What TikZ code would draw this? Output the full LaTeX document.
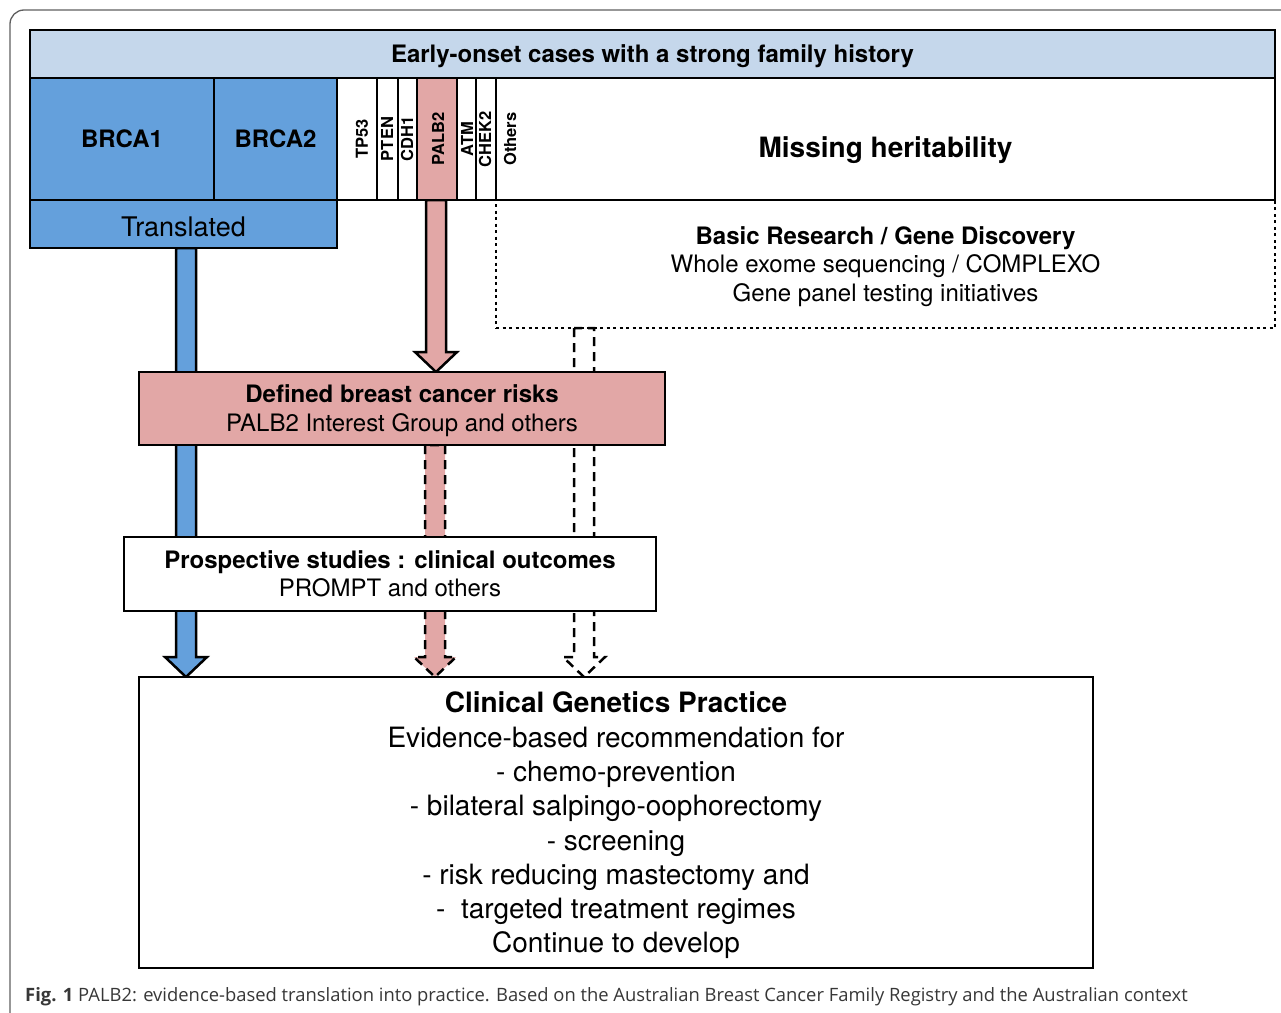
\documentclass[tikz,border=0pt]{standalone}
\usepackage{fontspec}
\setmainfont{TeX Gyre Heros}
\newfontfamily\capfont{Open Sans}
\usetikzlibrary{calc,backgrounds}

\definecolor{hdrblue}{RGB}{197,215,235}
\definecolor{genblue}{RGB}{100,160,220}
\definecolor{palbpink}{RGB}{226,167,166}
\definecolor{framegray}{RGB}{95,95,95}
\definecolor{capgray}{RGB}{55,55,55}

% block arrow: style, centre x, from (node anchor), to (node anchor)
\newcommand{\fatarrow}[4]{%
  \draw[#1] let \p1=(#3), \p2=(#4) in
    ({#2pt-10pt},\y1) -- ({#2pt-10pt},{\y2+20pt}) -- ({#2pt-21pt},{\y2+20pt})
    -- (#2pt,\y2) -- ({#2pt+21pt},{\y2+20pt}) -- ({#2pt+10pt},{\y2+20pt})
    -- ({#2pt+10pt},\y1) -- cycle;}

\tikzset{
  box/.style={draw, line width=2.5pt, inner sep=0pt, outer sep=0pt, anchor=north west, align=center, text depth=0pt},
  genecol/.style={draw, line width=1.2pt, inner sep=0pt, outer sep=0pt, anchor=north west, minimum height=122pt},
  genelab/.style={rotate=90, inner sep=0pt, font=\fontsize{16.5}{16.5}\selectfont\bfseries},
  dottedbox/.style={draw, line width=2.5pt, dash pattern=on 3pt off 3.5pt},
  arrowline/.style={line width=2.5pt, line join=miter},
  dasharrow/.style={arrowline, dash pattern=on 9pt off 6pt},
}

\begin{document}
\begin{tikzpicture}[x=1pt,y=-1pt]
  \useasboundingbox (0,0) rectangle (1281,1012);

  % Frame
  \draw[framegray, line width=1.3pt, rounded corners=14pt] (1295,10) -- (10,10) -- (10,1030);

  % Top rows
  \node[box, fill=hdrblue, minimum width=1245pt, minimum height=48pt,
        font=\fontsize{24}{24}\selectfont\bfseries] (head) at (30,30)
        {Early-onset cases with a strong family history};
  \node[genecol, fill=genblue, minimum width=184pt, font=\fontsize{24}{24}\selectfont\bfseries] (brca1) at (30,78) {BRCA1};
  \node[genecol, fill=genblue, minimum width=123pt, font=\fontsize{24}{24}\selectfont\bfseries] (brca2) at (214,78) {BRCA2};
  \node[genecol, minimum width=779pt] (missing) at (496,78) {};
  \node[font=\fontsize{28}{28}\selectfont\bfseries, yshift=-11pt] at (missing.center) {Missing heritability};
  \foreach \gx/\gw/\gname in {337/40/TP53, 377/21/PTEN, 398/19/CDH1, 457/19/ATM, 476/20/CHEK2}
    \node[genecol, minimum width=\gw pt] (\gname) at (\gx,78) {};
  \node[genecol, fill=palbpink, line width=2.5pt, minimum width=40pt] (PALB2) at (417,78) {};
  \foreach \gname/\lx in {TP53/362, PTEN/387, CDH1/407, PALB2/438, ATM/467, CHEK2/485, Others/510}
    \node[genelab] at (\lx,139) {\gname};

  \node[box, fill=genblue, minimum width=307pt, minimum height=48pt, text height=24pt,
        font=\fontsize{27}{27}\selectfont] (trans) at (30,200) {Translated};
  \node[box, dottedbox, minimum width=779pt, minimum height=128pt, text depth=-3pt,
        font=\fontsize{24}{28.5}\selectfont] (basic) at (496,200)
        {\textbf{Basic Research / Gene Discovery}\\Whole exome sequencing / COMPLEXO\\Gene panel testing initiatives};
  \draw[line width=2.5pt] (brca1.north west) rectangle (missing.south east);
  \draw[line width=2.5pt] (trans.north west) rectangle (trans.south east);

  % Middle boxes
  \node[box, fill=palbpink, minimum width=526pt, minimum height=73pt,
        font=\fontsize{24}{29}\selectfont] (defined) at (139,372)
        {\textbf{Defined breast cancer risks}\\PALB2 Interest Group and others};
  \node[box, fill=white, minimum width=532pt, minimum height=74pt,
        font=\fontsize{24}{28}\selectfont] (prosp) at (124,537)
        {\textbf{Prospective studies : clinical outcomes}\\PROMPT and others};
  \node[box, fill=white, minimum width=954pt, minimum height=291pt,
        font=\fontsize{28}{34.3}\selectfont] (clin) at (139,677)
        {\textbf{Clinical Genetics Practice}\\Evidence-based recommendation for\\- chemo-prevention\\
         - bilateral salpingo-oophorectomy\\- screening\\- risk reducing mastectomy and\\
         -~\ targeted treatment regimes\\Continue to develop};

  % Arrows
  \begin{scope}[on background layer]
    \fatarrow{arrowline, fill=genblue}{186}{trans.south}{clin.north}
    \fatarrow{arrowline, fill=palbpink}{436}{PALB2.south}{defined.north}
    \fatarrow{dasharrow, fill=palbpink}{435}{defined.south}{clin.north}
    \fatarrow{dasharrow, fill=white}{584}{basic.south}{clin.north}
  \end{scope}

  % Caption
  \node[anchor=base west, inner sep=0pt, text=capgray, font=\capfont\fontsize{18.4}{18.4}\selectfont] (cap) at (25,1001)
    {\textbf{Fig. 1} PALB2: evidence-based translation into practice. Based on the Australian Breast Cancer Family Registry and the Australian context};
\end{tikzpicture}
\end{document}
